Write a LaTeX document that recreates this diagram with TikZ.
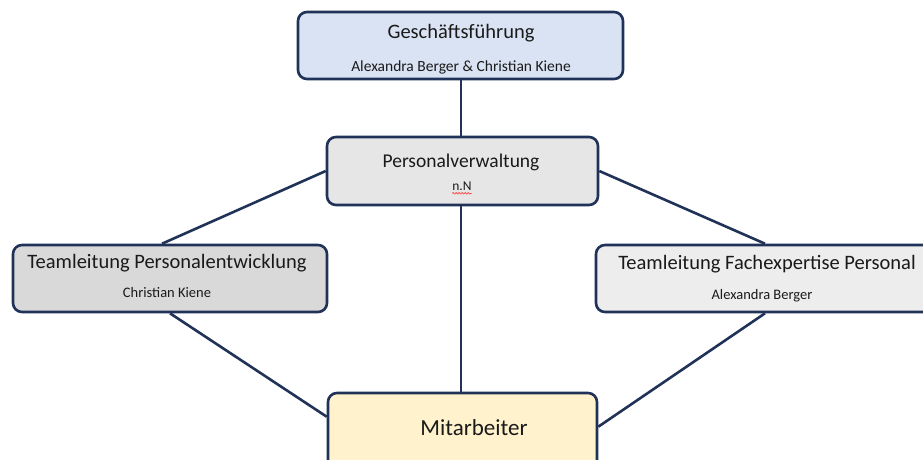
\documentclass[tikz,border=0pt]{standalone}
\usepackage{fontspec}
\setmainfont{Carlito}
\usetikzlibrary{decorations.pathmorphing}
\definecolor{navy}{RGB}{32,50,88}
\definecolor{gffill}{HTML}{DAE3F3}
\definecolor{pvfill}{HTML}{E7E6E6}
\definecolor{tpefill}{HTML}{D9D9D9}
\definecolor{tfpfill}{HTML}{EDEDED}
\definecolor{mitfill}{HTML}{FFF2CC}
\definecolor{txt}{HTML}{1A1A1A}
\begin{document}
\begin{tikzpicture}[x=1pt,y=-1pt,
  box/.style={draw=navy, line width=2.6pt, rounded corners=9pt, inner sep=0pt},
  conn/.style={draw=navy, line width=2.6pt},
  ttl/.style={font=\fontsize{20.5}{24}\selectfont, text=txt, anchor=base, inner sep=0pt},
  sub/.style={font=\fontsize{15.5}{18}\selectfont, text=txt, anchor=base, inner sep=0pt}]
\useasboundingbox (0,0) rectangle (923,459);
\clip (0,0) rectangle (923,459);
% boxes
\node[box, fill=gffill, minimum width=325pt, minimum height=67pt] (gf) at (460.5,45.5) {};
\node[box, fill=pvfill, minimum width=271pt, minimum height=68pt] (pv) at (462.5,171) {};
\node[box, fill=tpefill, minimum width=314pt, minimum height=67pt] (tpe) at (170,278.5) {};
\node[box, fill=tfpfill, minimum width=338pt, minimum height=67pt] (tfp) at (765,278.5) {};
\node[box, fill=mitfill, minimum width=269pt, minimum height=87pt] (mit) at (462.5,436.5) {};
% connectors
\draw[conn] (gf.south -| 461,0) -- (pv.north -| 461,0);
\draw[conn] (pv.south -| 461,0) -- (mit.north -| 461,0);
\draw[conn] (pv.west) -- ([xshift=-8pt]tpe.north);
\draw[conn] (pv.east) -- (tfp.north);
\draw[conn] (tpe.south) -- ([yshift=-25pt]mit.north west);
\draw[conn] (tfp.south) -- ([yshift=-35pt]mit.north east);
% texts
\node[ttl] (gft) at (461,38) {Geschäftsführung};
\node[sub] (gfs) at (461,71) {Alexandra Berger \& Christian Kiene};
\node[ttl, font=\fontsize{19.5}{23}\selectfont] (pvt) at (461,167) {Personalverwaltung};
\node[sub, font=\fontsize{13.5}{16}\selectfont] (pvs) at (462,190) {n.N};
\draw[red!80, line width=0.6pt, decorate, decoration={snake, amplitude=0.8pt, segment length=3pt}] ([yshift=-3pt]pvs.south west) -- ([yshift=-3pt]pvs.south east);
\node[ttl] (tpet) at (167,268) {Teamleitung Personalentwicklung};
\node[sub, font=\fontsize{14.5}{17}\selectfont] (tpes) at (167,297) {Christian Kiene};
\node[ttl] (tfpt) at (767,269) {Teamleitung Fachexpertise Personal};
\node[sub, font=\fontsize{14.5}{17}\selectfont] (tfps) at (762,299) {Alexandra Berger};
\node[ttl, font=\fontsize{23}{28}\selectfont] (mitt) at (474,435) {Mitarbeiter};
\end{tikzpicture}
\end{document}
